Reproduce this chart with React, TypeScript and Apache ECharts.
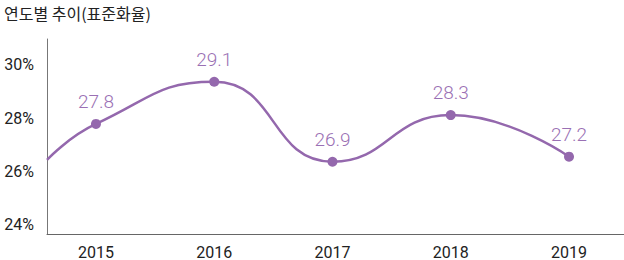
import React, { useEffect, useRef } from "react";
import * as echarts from "echarts";

const years = [2015, 2016, 2017, 2018, 2019];
// plotted positions
const values = [27.79, 29.37, 26.37, 28.12, 26.56];
// printed labels
const labels = ["27.8", "29.1", "26.9", "28.3", "27.2"];
// line enters from the left edge of the plot
const leadIn = [2014.586, 26.44];
const yTicks = [24, 26, 28, 30];

export default function App() {
  const ref = useRef<HTMLDivElement>(null);
  useEffect(() => {
    if (!ref.current) return;
    const chart = echarts.init(ref.current, null, { renderer: "svg" });
    const purple = "#9468ad";
    const font = "'Noto Sans CJK KR', 'Noto Sans', sans-serif";
    const numFont = "Roboto, 'Noto Sans', sans-serif";
    const data: any[] = [
      { value: leadIn, symbol: "none", label: { show: false } },
      ...years.map((y, i) => ({ value: [y, values[i]], labelText: labels[i] })),
    ];
    chart.setOption({
      animation: false,
      title: {
        text: "연도별 추이(표준화율)",
        left: -1,
        top: 0,
        textStyle: { fontFamily: font, fontSize: 16, fontWeight: 400, color: "#222" },
      },
      grid: { left: 47, right: 0, top: 39, bottom: 26, containLabel: false },
      xAxis: {
        type: "value",
        min: 2014.586,
        max: 2019.465,
        splitLine: { show: false },
        axisTick: { show: false },
        axisLine: { show: true, lineStyle: { color: "#666", width: 1 } },
        axisLabel: {
          customValues: years,
          formatter: (v: number) => String(Math.round(v)),
          margin: 10,
          fontSize: 16,
          lineHeight: 16,
          color: "#222",
          fontFamily: numFont,
        },
      },
      yAxis: {
        type: "value",
        min: 23.66,
        max: 30.975,
        splitLine: { show: false },
        axisTick: { show: false },
        axisLine: { show: true, lineStyle: { color: "#777", width: 1 } },
        axisLabel: {
          customValues: yTicks,
          formatter: (v: number) => `${Math.round(v)}%`,
          margin: 13,
          fontSize: 16,
          color: "#222",
          fontFamily: numFont,
        },
      },
      series: [
        {
          type: "line",
          data,
          smooth: 0.5,
          clip: true,
          symbol: "circle",
          symbolSize: 10,
          lineStyle: { color: purple, width: 2.5 },
          itemStyle: { color: purple },
          label: {
            show: true,
            position: "top",
            distance: 8,
            fontSize: 19,
            fontWeight: 300,
            color: "#9a70b4",
            fontFamily: numFont,
            formatter: (p: any) => p.data.labelText ?? "",
          },
        },
      ],
    });
    return () => chart.dispose();
  }, []);
  return <div ref={ref} style={{ width: 624, height: 260, position: "absolute", left: 0, top: 0 }} />;
}
